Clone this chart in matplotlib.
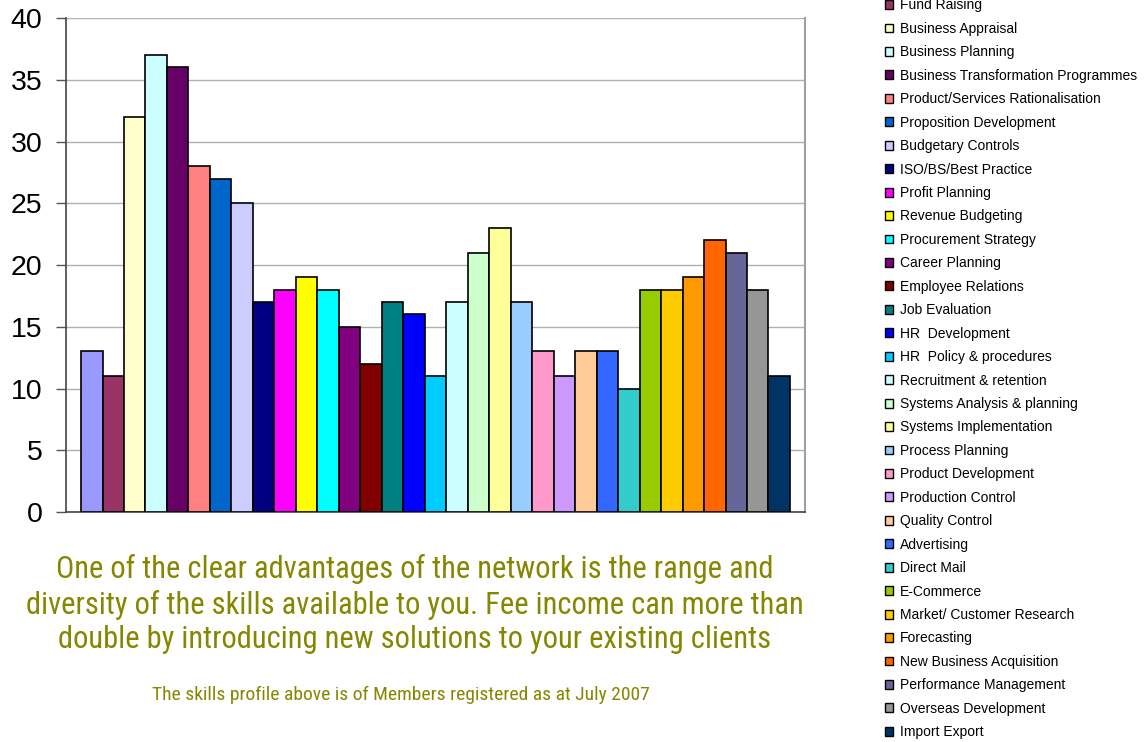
import matplotlib
matplotlib.use("Agg")
import matplotlib.pyplot as plt
from matplotlib.patches import Patch
import numpy as np

skills = [
    "Business Strategy", "Fund Raising", "Business Appraisal", "Business Planning",
    "Business Transformation Programmes", "Product/Services Rationalisation",
    "Proposition Development", "Budgetary Controls", "ISO/BS/Best Practice",
    "Profit Planning", "Revenue Budgeting", "Procurement Strategy", "Career Planning",
    "Employee Relations", "Job Evaluation", "HR  Development", "HR  Policy & procedures",
    "Recruitment & retention", "Systems Analysis & planning", "Systems Implementation",
    "Process Planning", "Product Development", "Production Control", "Quality Control",
    "Advertising", "Direct Mail", "E-Commerce", "Market/ Customer Research",
    "Forecasting", "New Business Acquisition", "Performance Management",
    "Overseas Development", "Import Export",
]
members = [13, 11, 32, 37, 36, 28, 27, 25, 17, 18, 19, 18, 15, 12, 17, 16, 11,
           17, 21, 23, 17, 13, 11, 13, 13, 10, 18, 18, 19, 22, 21, 18, 11]
bar_colors = [
    "#9999FF", "#993366", "#FFFFCC", "#CCFFFF", "#660066", "#FF8080", "#0066CC",
    "#CCCCFF", "#000080", "#FF00FF", "#FFFF00", "#00FFFF", "#800080", "#800000",
    "#008080", "#0000FF", "#00CCFF", "#CCFFFF", "#CCFFCC", "#FFFF99", "#99CCFF",
    "#FF99CC", "#CC99FF", "#FFCC99", "#3366FF", "#33CCCC", "#99CC00", "#FFCC00",
    "#FF9900", "#FF6600", "#666699", "#969696", "#003366",
]
y_ticks = [0, 5, 10, 15, 20, 25, 30, 35, 40]

headline = ("One of the clear advantages of the network is the range and\n"
            "diversity of the skills available to you. Fee income can more than\n"
            "double by introducing new solutions to your existing clients")
footnote = "The skills profile above is of Members registered as at July 2007"

plt.rcParams["font.family"] = ["Liberation Sans", "DejaVu Sans"]
narrow = ["Roboto Condensed", "Liberation Sans"]
olive = "#868600"

fig = plt.figure(figsize=(11.44, 7.42), dpi=100)
ax = fig.add_axes([66 / 1144, 1 - 512 / 742, (805 - 66) / 1144, (512 - 18) / 742])

x = np.arange(len(members))
ax.bar(x, members, width=1.0, color=bar_colors, edgecolor="black", linewidth=1.2, zorder=3)

ax.set_xlim(-0.5 - 0.7, len(members) - 0.5 + 0.7)
ax.set_ylim(0, 40)
ax.set_yticks(y_ticks)
ax.set_xticks([])
ax.tick_params(axis="y", labelsize=20.5, length=7, width=1, color="#555555", pad=10)
ax.yaxis.grid(True, color="#B0B0B0", linewidth=1, zorder=0)
ax.set_axisbelow(True)
ax.spines["left"].set_color("#444444")
ax.spines["left"].set_linewidth(1.2)
ax.spines["bottom"].set_color("#444444")
ax.spines["bottom"].set_linewidth(1.2)
ax.spines["right"].set_color("#A0A0A0")
ax.spines["right"].set_linewidth(1.5)
ax.spines["top"].set_visible(False)

handles = [Patch(facecolor=c, edgecolor="black", linewidth=1.0) for c in bar_colors]
fig.legend(handles, skills, loc="upper left", bbox_to_anchor=(885 / 1144, 1 + 25 / 742),
           frameon=False, fontsize=10, handlelength=0.6, handleheight=0.6,
           handletextpad=0.45, labelspacing=0.68, borderaxespad=0, borderpad=0)

fig.text(415 / 1144, 1 - 604 / 742, headline, ha="center", va="center",
         fontsize=22, color=olive, family=narrow, linespacing=1.25)
fig.text(401 / 1144, 1 - 695 / 742, footnote, ha="center", va="center",
         fontsize=14, color=olive, family=narrow)

fig.savefig("out.png", dpi=100)
